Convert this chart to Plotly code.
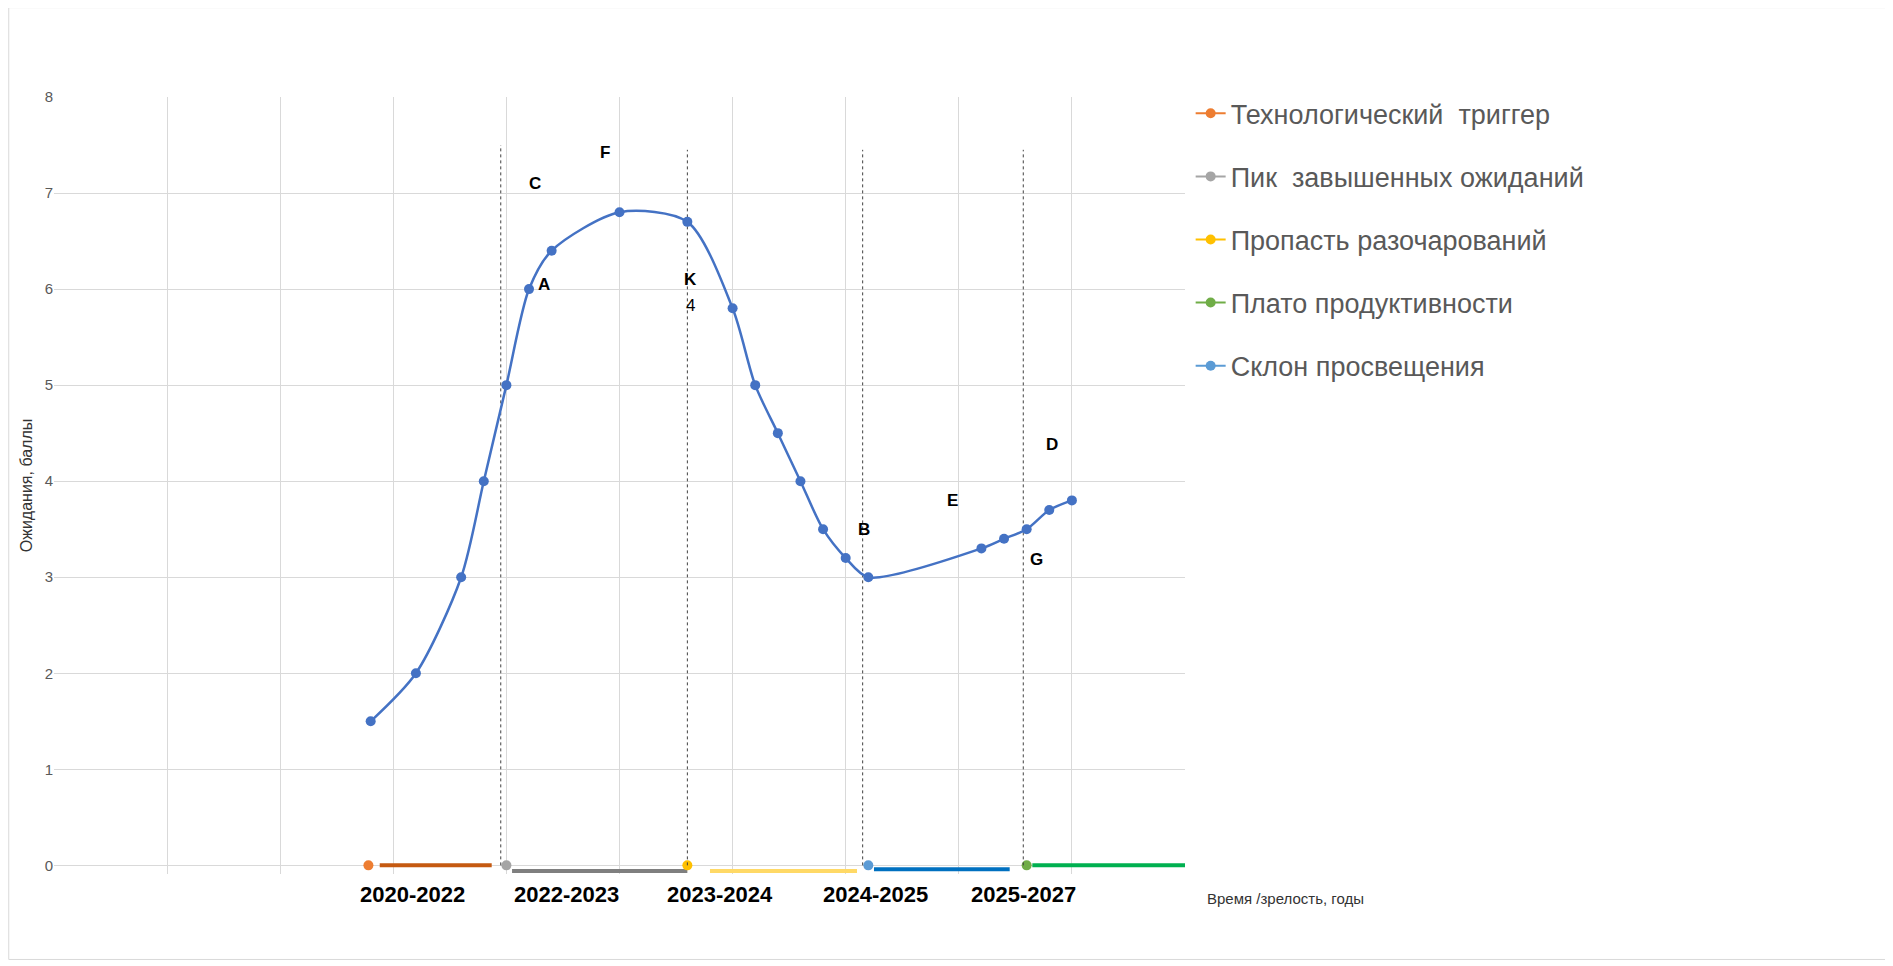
import plotly.graph_objects as go

x_vals = [2.8,3.2,3.6,3.8,4.0,4.2,4.4,5.0,5.6,6.0,6.2,6.4,6.6,6.8,7.0,7.2,8.2,8.4,8.6,8.8,9.0]
y_vals = [1.5,2,3,4,5,6,6.4,6.8,6.7,5.8,5,4.5,4,3.5,3.2,3,3.3,3.4,3.5,3.7,3.8]

phase_names = ["Технологический  триггер","Пик  завышенных ожиданий","Пропасть разочарований","Плато продуктивности","Склон просвещения"]
phase_colors = ["#ED7D31","#A5A5A5","#FFC000","#70AD47","#5B9BD5"]
phase_marker_x = [2.78,4.0,5.6,8.6,7.2]
seg_colors = ["#C55A11","#7F7F7F","#FFD966","#00B050","#0070C0"]
seg_x0 = [2.88,4.05,5.8,8.65,7.25]
seg_x1 = [3.87,5.6,7.1,10.15,8.45]
seg_y0 = [0,-0.06,-0.06,0,-0.04]
seg_y1 = [0,-0.06,-0.06,0.0,-0.04]

vline_x = [3.95,5.6,7.15,8.57]
vline_top = [7.5,7.45,7.45,7.45]

ann_text = ["C","F","A","K","B","E","D","G"]
ann_x = [4.25,4.87,4.33,5.63,7.16,7.94,8.82,8.69]
ann_y = [7.1,7.42,6.05,6.1,3.5,3.8,4.38,3.18]

period_labels = ["2020-2022","2022-2023","2023-2024","2024-2025","2025-2027"]
period_x = [3.17,4.53,5.89,7.26,8.57]

fig = go.Figure()
for i in range(5):
    fig.add_trace(go.Scatter(x=[seg_x0[i],seg_x1[i]], y=[seg_y0[i],seg_y1[i]], mode="lines",
        line=dict(color=seg_colors[i], width=4), showlegend=False, hoverinfo="skip"))
for i in range(5):
    fig.add_trace(go.Scatter(x=[phase_marker_x[i]], y=[0], mode="markers+lines", name=phase_names[i],
        marker=dict(color=phase_colors[i], size=10), line=dict(color=phase_colors[i], width=2),
        legendgroup=str(i)))
for i in range(4):
    fig.add_trace(go.Scatter(x=[vline_x[i],vline_x[i]], y=[0,vline_top[i]], mode="lines",
        line=dict(color="#404040", width=1, dash="dot"), showlegend=False, hoverinfo="skip"))
fig.add_trace(go.Scatter(x=x_vals, y=y_vals, mode="lines+markers", line=dict(color="#4472C4", width=2.5, shape="spline", smoothing=0.8),
    marker=dict(color="#4472C4", size=10), showlegend=False))

for t, ax, ay in zip(ann_text, ann_x, ann_y):
    fig.add_annotation(x=ax, y=ay, text="<b>"+t+"</b>", showarrow=False, font=dict(size=17, color="black"))
fig.add_annotation(x=5.63, y=5.83, text="4", showarrow=False, font=dict(size=17, color="black"))
for t, px in zip(period_labels, period_x):
    fig.add_annotation(x=px, y=-0.045, yref="paper", text="<b>"+t+"</b>", showarrow=False, font=dict(size=22, color="black"))
fig.add_annotation(x=1.16, xref="paper", y=-0.045, yref="paper", text="Время /зрелость, годы", showarrow=False,
    font=dict(size=15, color="#333"))

fig.add_shape(type="rect", xref="paper", yref="paper", x0=-0.04, x1=1.63, y0=-0.11, y1=1.115,
    line=dict(color="#D9D9D9", width=1))

fig.update_layout(
    width=1893, height=966, paper_bgcolor="white", plot_bgcolor="white",
    margin=dict(l=46, r=716, t=89, b=100),
    font=dict(family="Liberation Sans, Arial", color="#595959"),
    xaxis=dict(range=[0,10], dtick=1, showticklabels=False, showgrid=True, gridcolor="#D9D9D9",
               zeroline=False, showline=False),
    yaxis=dict(range=[-0.09,8], tickvals=[0,1,2,3,4,5,6,7,8], showgrid=True, gridcolor="#D9D9D9", zeroline=False,
               tickfont=dict(size=15, color="#595959"), showline=False,
               title=dict(text="Ожидания, баллы", font=dict(size=16, color="#333"), standoff=8)),
    legend=dict(x=1.005, y=1.01, xanchor="left", yanchor="top", font=dict(size=27, color="#595959"),
                tracegroupgap=25, itemwidth=30),
)
fig.write_html("out.html")
